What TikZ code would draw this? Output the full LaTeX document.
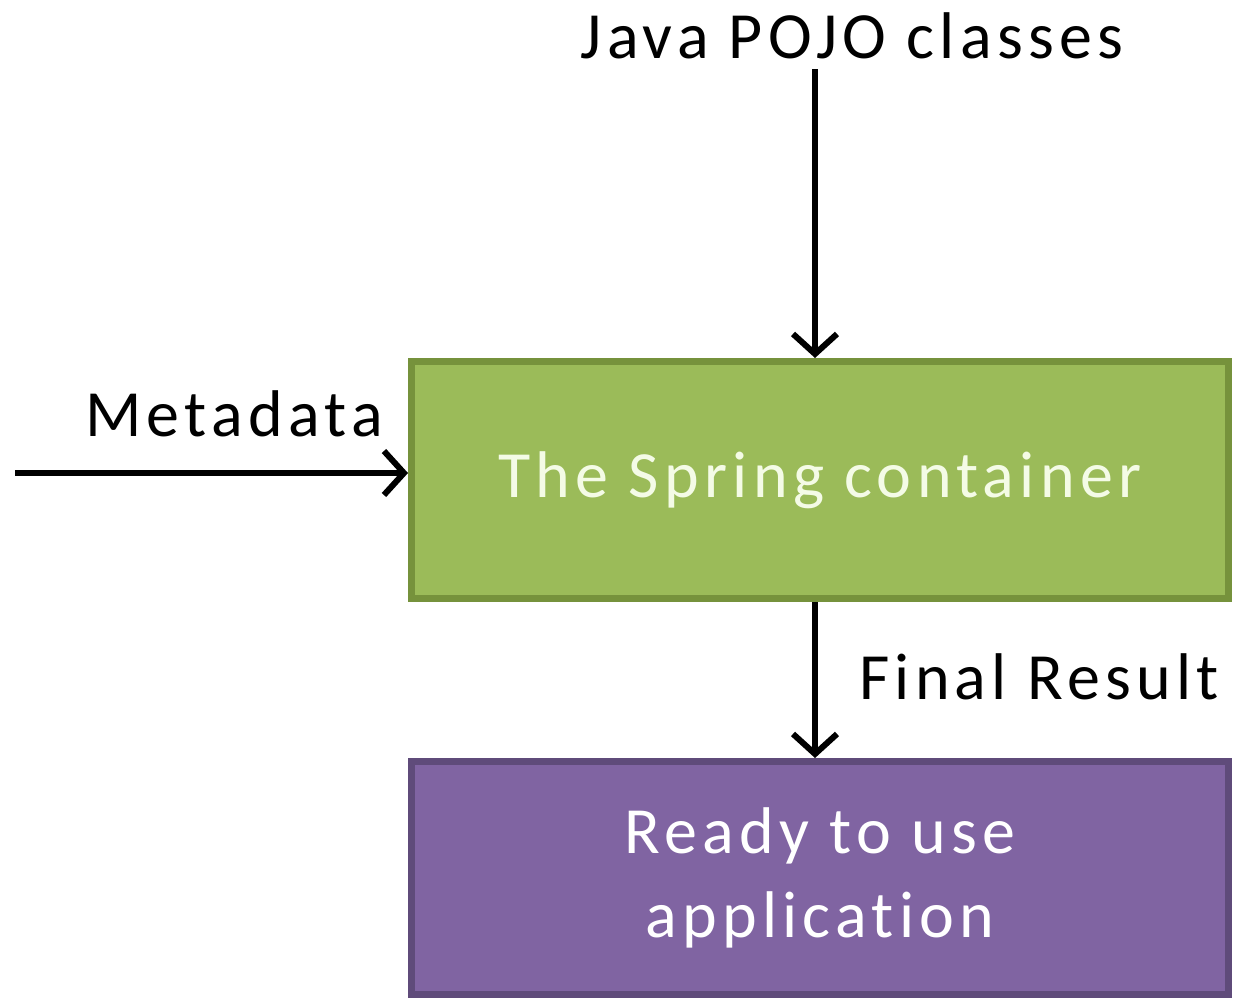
\documentclass[tikz,border=0pt]{standalone}
\usepackage{fontspec}
\setmainfont{Carlito}[LetterSpace=8, RawFeature={-liga;-clig;-dlig}]
\usetikzlibrary{arrows.meta}
\definecolor{grfill}{HTML}{9BBB59}
\definecolor{grline}{HTML}{76923C}
\definecolor{pufill}{HTML}{8064A2}
\definecolor{puline}{HTML}{5F4B7A}
\definecolor{grtext}{HTML}{F4FBE6}
\tikzset{
  box/.style={draw, line width=7pt, minimum width=817pt, anchor=north west, inner sep=0pt},
  arr/.style={line width=6pt, -{Straight Barb[length=20pt,width=44pt,line width=6pt]}},
  lbl/.style={font=\fontsize{66}{80}\selectfont, text=black, inner sep=0pt},
}
\begin{document}
\begin{tikzpicture}[x=1pt,y=-1pt]
\useasboundingbox (0,0) rectangle (1233,1001);
\fill[white] (0,0) rectangle (1233,1001);
\node[box, fill=grfill, draw=grline, minimum height=237pt, text=grtext,
      font=\fontsize{66}{80}\selectfont] (spring) at (408,358) {The Spring container};
\node[box, fill=pufill, draw=puline, minimum height=233pt, text=white,
      font=\fontsize{66}{84}\selectfont, align=center] (app) at (408,758) {Ready to use\\application};
\node[lbl] (pojo) at (852,36) {Java POJO classes};
\node[lbl] (meta) at (234,414) {Metadata};
\node[lbl] (final) at (1039,677) {Final Result};
\coordinate (src) at (15,473);
\draw[arr] (pojo.south -| 815,0) ++(0,10) coordinate (ptop) -- (spring.north -| 815,0);
\draw[arr] (src) -- (src -| spring.west);
\draw[arr] (spring.south -| 815,0) -- (app.north -| 815,0);
\end{tikzpicture}
\end{document}
